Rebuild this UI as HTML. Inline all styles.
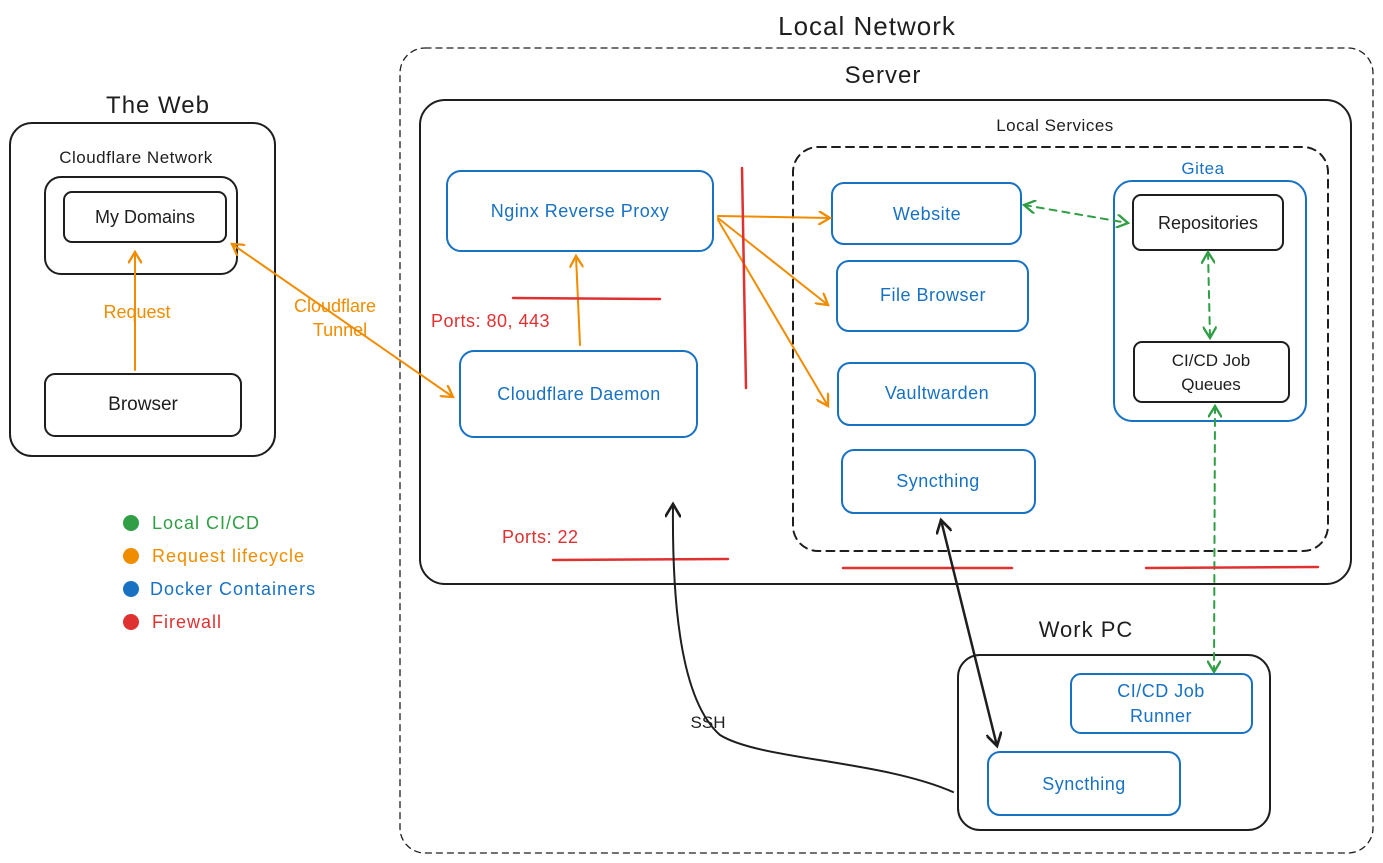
<!DOCTYPE html>
<html><head><meta charset="utf-8"><style>
html,body{margin:0;padding:0;background:#fff;}
svg{display:block;}
text{font-family:"Liberation Sans","DejaVu Sans",sans-serif;}
</style></head><body>
<svg width="1383" height="863" viewBox="0 0 1383 863" xmlns="http://www.w3.org/2000/svg">
<defs>
<marker id="ao" viewBox="0 0 12 12" refX="10" refY="6" markerWidth="14" markerHeight="14" orient="auto-start-reverse" markerUnits="userSpaceOnUse"><path d="M0,0 L10,6 L0,12" fill="none" stroke="#f08c00" stroke-width="2"/></marker>
<marker id="ag" viewBox="0 0 12 12" refX="10" refY="6" markerWidth="14" markerHeight="14" orient="auto-start-reverse" markerUnits="userSpaceOnUse"><path d="M0,0 L10,6 L0,12" fill="none" stroke="#2f9e44" stroke-width="2"/></marker>
<marker id="ak" viewBox="0 0 12 12" refX="10" refY="6" markerWidth="16" markerHeight="16" orient="auto-start-reverse" markerUnits="userSpaceOnUse"><path d="M0,0 L10,6 L0,12" fill="none" stroke="#1e1e1e" stroke-width="2"/></marker>
</defs>
<g fill="none" stroke-linecap="round">
<rect x="400" y="48" width="973" height="805" rx="25" stroke="#1e1e1e" stroke-width="1.3" stroke-dasharray="6 5"/>
<rect x="420" y="100" width="931" height="484" rx="25" stroke="#1e1e1e" stroke-width="2"/>
<rect x="793" y="147" width="535" height="404" rx="25" stroke="#1e1e1e" stroke-width="2" stroke-dasharray="8 6"/>
<rect x="10" y="123" width="265" height="333" rx="22" stroke="#1e1e1e" stroke-width="2"/>
<rect x="45" y="177" width="192" height="97" rx="16" stroke="#1e1e1e" stroke-width="2"/>
<rect x="64" y="192" width="162" height="50" rx="8" stroke="#1e1e1e" stroke-width="2"/>
<rect x="45" y="374" width="196" height="62" rx="10" stroke="#1e1e1e" stroke-width="2"/>
<g stroke="#1971c2" stroke-width="2">
<rect x="447" y="171" width="266" height="80" rx="14"/>
<rect x="460" y="351" width="237" height="86" rx="14"/>
<rect x="832" y="183" width="189" height="61" rx="12"/>
<rect x="837" y="261" width="191" height="70" rx="12"/>
<rect x="838" y="363" width="197" height="62" rx="12"/>
<rect x="842" y="450" width="193" height="63" rx="12"/>
<rect x="1114" y="181" width="192" height="240" rx="18"/>
<rect x="1071" y="674" width="181" height="59" rx="10"/>
<rect x="988" y="752" width="192" height="63" rx="12"/>
</g>
<rect x="1133" y="195" width="150" height="55" rx="8" stroke="#1e1e1e" stroke-width="2"/>
<rect x="1134" y="342" width="155" height="60" rx="8" stroke="#1e1e1e" stroke-width="2"/>
<rect x="958" y="655" width="312" height="175" rx="22" stroke="#1e1e1e" stroke-width="2"/>
<g stroke="#f08c00" stroke-width="2">
<line x1="135" y1="370" x2="135" y2="252" marker-end="url(#ao)"/>
<line x1="232" y1="244" x2="453" y2="397" marker-start="url(#ao)" marker-end="url(#ao)"/>
<line x1="580" y1="345" x2="576" y2="256" marker-end="url(#ao)"/>
<line x1="718" y1="216" x2="830" y2="218" marker-end="url(#ao)"/>
<line x1="718" y1="218" x2="828" y2="305" marker-end="url(#ao)"/>
<line x1="718" y1="220" x2="828" y2="406" marker-end="url(#ao)"/>
</g>
<g stroke="#2f9e44" stroke-width="2" stroke-dasharray="7 6">
<line x1="1024" y1="205" x2="1128" y2="223" marker-start="url(#ag)" marker-end="url(#ag)"/>
<line x1="1208" y1="252" x2="1210" y2="338" marker-start="url(#ag)" marker-end="url(#ag)"/>
<line x1="1215" y1="406" x2="1214" y2="672" marker-start="url(#ag)" marker-end="url(#ag)"/>
</g>
<g stroke="#e03131" stroke-width="2.5">
<line x1="513" y1="298" x2="660" y2="299"/>
<line x1="742" y1="168" x2="746" y2="388"/>
<line x1="553" y1="560" x2="728" y2="559"/>
<line x1="843" y1="568" x2="1012" y2="568"/>
<line x1="1146" y1="568" x2="1318" y2="567"/>
</g>
<line x1="941" y1="520" x2="997" y2="746" stroke="#1e1e1e" stroke-width="2.5" marker-start="url(#ak)" marker-end="url(#ak)"/>
<path d="M953,792 C880,760 760,760 720,735 C680,700 672,600 673,504" stroke="#1e1e1e" stroke-width="2" marker-end="url(#ak)"/>
</g>
<circle cx="131" cy="523" r="8" fill="#2f9e44"/>
<circle cx="131" cy="556" r="8" fill="#f08c00"/>
<circle cx="131" cy="589" r="8" fill="#1971c2"/>
<circle cx="131" cy="622" r="8" fill="#e03131"/>
<g fill="#1e1e1e" text-anchor="middle">
<text x="867" y="35" font-size="26" letter-spacing="1">Local Network</text>
<text x="883" y="83" font-size="24" letter-spacing="1">Server</text>
<text x="1055" y="131" font-size="17" letter-spacing="0.5">Local Services</text>
<text x="158" y="113" font-size="24" letter-spacing="1">The Web</text>
<text x="136" y="163" font-size="17" letter-spacing="0.5">Cloudflare Network</text>
<text x="145" y="223" font-size="18">My Domains</text>
<text x="143" y="410" font-size="19">Browser</text>
<text x="1208" y="229" font-size="18">Repositories</text>
<text x="1211" y="366" font-size="17">CI/CD Job</text>
<text x="1211" y="390" font-size="17">Queues</text>
<text x="1086" y="637" font-size="22" letter-spacing="1">Work PC</text>
<text x="708" y="728" font-size="17">SSH</text>
</g>
<g fill="#1971c2" text-anchor="middle" font-size="18" letter-spacing="0.5">
<text x="580" y="217">Nginx Reverse Proxy</text>
<text x="579" y="400">Cloudflare Daemon</text>
<text x="927" y="220">Website</text>
<text x="933" y="301">File Browser</text>
<text x="937" y="399">Vaultwarden</text>
<text x="938" y="487">Syncthing</text>
<text x="1203" y="174" font-size="17">Gitea</text>
<text x="1161" y="697">CI/CD Job</text>
<text x="1161" y="722">Runner</text>
<text x="1084" y="790">Syncthing</text>
</g>
<g fill="#f08c00" text-anchor="middle" font-size="18">
<text x="137" y="318">Request</text>
<text x="335" y="312">Cloudflare</text>
<text x="340" y="336">Tunnel</text>
</g>
<g fill="#e03131" font-size="18" letter-spacing="0.5">
<text x="431" y="327">Ports: 80, 443</text>
<text x="502" y="543">Ports: 22</text>
</g>
<g font-size="18" letter-spacing="1">
<text x="152" y="529" fill="#2f9e44">Local CI/CD</text>
<text x="152" y="562" fill="#f08c00">Request lifecycle</text>
<text x="150" y="595" fill="#1971c2">Docker Containers</text>
<text x="152" y="628" fill="#e03131">Firewall</text>
</g>
</svg>
</body></html>
